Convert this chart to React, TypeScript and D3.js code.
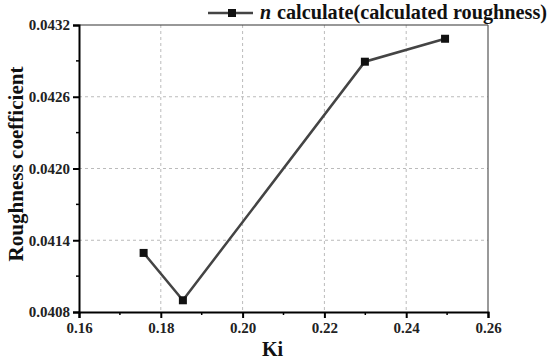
import React, { useRef, useEffect } from 'react';
import * as d3 from 'd3';

const kiValues = [0.1758, 0.1854, 0.2299, 0.2495];
const roughness = [0.041294, 0.040898, 0.042893, 0.043085];
const xTicks = [0.16, 0.18, 0.2, 0.22, 0.24, 0.26];
const yTicks = [0.0408, 0.0414, 0.042, 0.0426, 0.0432];
const seriesSymbol = 'n';
const seriesLabel = 'calculate(calculated roughness)';

const W = 550;
const H = 363;

const App: React.FC = () => {
    const svgRef = useRef<SVGSVGElement>(null);

    useEffect(() => {
        if (!svgRef.current) return;
        const svg = d3.select(svgRef.current);
        svg.selectAll('*').remove();

        const margin = { top: 25, right: 62, bottom: 51, left: 79 };
        const width = W - margin.left - margin.right;
        const height = H - margin.top - margin.bottom;
        const font = 'Liberation Serif';

        const x = d3.scaleLinear().domain([0.16, 0.26]).range([0, width]);
        const y = d3.scaleLinear().domain([0.0408, 0.0432]).range([height, 0]);

        const g = svg.append('g').attr('transform', `translate(${margin.left},${margin.top})`);

        // grid
        g.append('g')
            .selectAll('line')
            .data(xTicks.slice(1, -1))
            .join('line')
            .attr('x1', d => x(d)).attr('x2', d => x(d))
            .attr('y1', 0).attr('y2', height)
            .attr('stroke', '#bbb').attr('stroke-width', 1).attr('stroke-dasharray', '3,3');
        g.append('g')
            .selectAll('line')
            .data(yTicks.slice(1, -1))
            .join('line')
            .attr('x1', 0).attr('x2', width)
            .attr('y1', d => y(d)).attr('y2', d => y(d))
            .attr('stroke', '#bbb').attr('stroke-width', 1).attr('stroke-dasharray', '3,3');

        // frame top/right
        g.append('line').attr('x1', 0).attr('x2', width).attr('y1', 0).attr('y2', 0)
            .attr('stroke', '#333').attr('stroke-width', 1.2);
        g.append('line').attr('x1', width).attr('x2', width).attr('y1', 0).attr('y2', height)
            .attr('stroke', '#555').attr('stroke-width', 1.2);

        // axes
        const xAxis = g.append('g')
            .attr('transform', `translate(0,${height})`)
            .call(d3.axisBottom(x).tickValues(xTicks).tickFormat(d3.format('.2f')).tickSize(6).tickPadding(4));
        const yAxis = g.append('g')
            .call(d3.axisLeft(y).tickValues(yTicks).tickFormat(d3.format('.4f')).tickSize(6).tickPadding(3));

        [xAxis, yAxis].forEach(a => {
            a.attr('font-family', font);
            a.select('.domain').attr('stroke', '#000').attr('stroke-width', 2);
            a.selectAll('.tick line').attr('stroke', '#000').attr('stroke-width', 2);
            a.selectAll('.tick text')
                .attr('fill', '#222')
                .attr('font-weight', 'bold')
                .attr('font-size', 15);
        });

        // minor ticks
        const xMinor = d3.range(xTicks.length - 1).map(i => (xTicks[i] + xTicks[i + 1]) / 2);
        const yMinor = d3.range(yTicks.length - 1).map(i => (yTicks[i] + yTicks[i + 1]) / 2);
        g.append('g').selectAll('line').data(xMinor).join('line')
            .attr('x1', d => x(d)).attr('x2', d => x(d))
            .attr('y1', height).attr('y2', height + 3)
            .attr('stroke', '#000').attr('stroke-width', 1.5);
        g.append('g').selectAll('line').data(yMinor).join('line')
            .attr('x1', 0).attr('x2', -3)
            .attr('y1', d => y(d)).attr('y2', d => y(d))
            .attr('stroke', '#000').attr('stroke-width', 1.5);

        // axis titles
        g.append('text')
            .attr('x', width / 2 - 11).attr('y', height + 44)
            .attr('text-anchor', 'middle')
            .attr('font-family', font).attr('font-weight', 'bold').attr('font-size', 20)
            .attr('fill', '#111')
            .text('Ki');
        g.append('text')
            .attr('transform', 'rotate(-90)')
            .attr('x', -139).attr('y', -56)
            .attr('text-anchor', 'middle')
            .attr('font-family', font).attr('font-weight', 'bold').attr('font-size', 20)
            .attr('textLength', 195).attr('lengthAdjust', 'spacingAndGlyphs')
            .attr('fill', '#111')
            .text('Roughness coefficient');

        // series
        const pts = kiValues.map((k, i) => [k, roughness[i]] as [number, number]);
        const line = d3.line<[number, number]>().x(d => x(d[0])).y(d => y(d[1]));
        g.append('path')
            .datum(pts)
            .attr('d', line)
            .attr('fill', 'none')
            .attr('stroke', '#444')
            .attr('stroke-width', 2.5);
        g.selectAll('rect.pt')
            .data(pts)
            .join('rect')
            .attr('class', 'pt')
            .attr('x', d => x(d[0]) - 4).attr('y', d => y(d[1]) - 4)
            .attr('width', 8).attr('height', 8)
            .attr('fill', '#111');

        // legend
        const lg = svg.append('g').attr('transform', 'translate(208,13)');
        lg.append('line').attr('x1', 0).attr('x2', 45).attr('y1', 0).attr('y2', 0)
            .attr('stroke', '#444').attr('stroke-width', 2.5);
        lg.append('rect').attr('x', 20).attr('y', -4).attr('width', 8).attr('height', 8).attr('fill', '#111');
        lg.append('text')
            .attr('x', 52).attr('y', 6)
            .attr('font-family', font).attr('font-weight', 'bold').attr('font-style', 'italic')
            .attr('font-size', 20).attr('fill', '#111')
            .text(seriesSymbol);
        lg.append('text')
            .attr('x', 69).attr('y', 6)
            .attr('font-family', font).attr('font-weight', 'bold')
            .attr('font-size', 20).attr('fill', '#111')
            .attr('textLength', 270).attr('lengthAdjust', 'spacingAndGlyphs')
            .text(seriesLabel);
    }, []);

    return (
        <svg ref={svgRef} width={W} height={H} style={{ display: 'block', position: 'absolute', left: 0, top: 0, background: '#fff' }} />
    );
};

export default App;
